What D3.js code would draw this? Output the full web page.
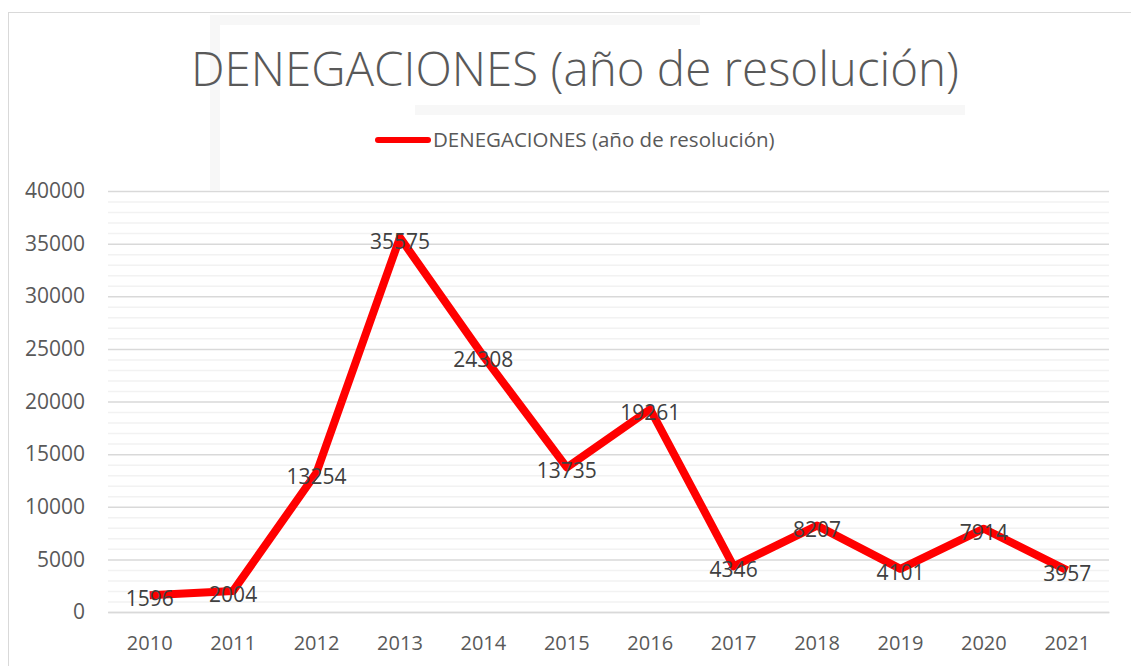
<!DOCTYPE html>
<meta charset="utf-8">
<script src="https://d3js.org/d3.v7.min.js"></script>
<style>
  body{margin:0;background:#fff;}
  text{font-family:"Open Sans",sans-serif;}
</style>
<div id="chart"></div>
<script>
    const years=["2010","2011","2012","2013","2014","2015","2016","2017","2018","2019","2020","2021"];
    const denegaciones=[1596,2004,13254,35575,24308,13735,19261,4346,8207,4101,7914,3957];
    const yTicks=[0,5000,10000,15000,20000,25000,30000,35000,40000];
    const titleText="DENEGACIONES (año de resolución)";

    const W=1131,H=666;
    const margin={top:191,bottom:54,left:108,right:22},
        width=W-margin.left-margin.right,
        height=H-margin.top-margin.bottom;

    const root=d3.select("#chart")
        .append("svg")
            .attr("width",W)
            .attr("height",H);

    // chart frame
    root.append("rect")
        .attr("x",8.5).attr("y",12.5)
        .attr("width",W+20).attr("height",H+20)
        .attr("fill","#fff")
        .attr("stroke","#d9d9d9");

    // faint watermark shapes
    const wm=root.append("g").attr("fill","none").attr("stroke","#f7f7f7").attr("stroke-width",10);
    wm.append("path").attr("d","M215,190 V20 H700");
    wm.append("path").attr("d","M415,110 H965");

    root.append("text")
        .attr("x",575).attr("y",86)
        .attr("text-anchor","middle")
        .attr("font-size",47.5)
        .attr("font-weight",300)
        .attr("fill","#595959")
        .text(titleText);

    // legend
    root.append("line")
        .attr("x1",378).attr("x2",428)
        .attr("y1",140).attr("y2",140)
        .attr("stroke","#ff0000")
        .attr("stroke-width",6)
        .attr("stroke-linecap","round");
    root.append("text")
        .attr("x",433).attr("y",147)
        .attr("font-size",20.5)
        .attr("fill","#595959")
        .text(titleText);

    const svg=root.append("g")
        .attr("transform",`translate(${margin.left},${margin.top})`);

    const x=d3.scaleBand()
        .domain(years)
        .range([0,width]);

    const y=d3.scaleLinear()
        .domain([0,40000])
        .range([height,0]);

    // minor gridlines
    svg.append("g")
        .selectAll("line")
        .data(d3.range(0,40001,1000).filter(v=>v%5000!==0))
        .join("line")
            .attr("x1",0).attr("x2",width)
            .attr("y1",d=>y(d)+0.5).attr("y2",d=>y(d)+0.5)
            .attr("stroke","#f2f2f2")
            .attr("stroke-width",1.5);

    // major gridlines
    svg.append("g")
        .call(d3.axisLeft(y).tickValues(yTicks).tickSize(-width).tickPadding(23).tickFormat(d3.format("d")))
        .call(g=>g.select(".domain").remove())
        .call(g=>g.selectAll(".tick line").attr("stroke","#d9d9d9").attr("stroke-width",1.5))
        .call(g=>g.selectAll(".tick text").attr("fill","#595959").attr("font-size",21).attr("font-family","Open Sans"));

    svg.append("g")
        .attr("transform",`translate(0,${height})`)
        .call(d3.axisBottom(x).tickSize(0).tickPadding(24))
        .call(g=>g.select(".domain").attr("stroke","#d9d9d9").attr("stroke-width",1.5))
        .call(g=>g.selectAll(".tick text").attr("fill","#595959").attr("font-size",20).attr("font-family","Open Sans"));

    const line=d3.line()
        .x((d,i)=>x(years[i])+x.bandwidth()/2)
        .y(d=>y(d));

    svg.append("path")
        .datum(denegaciones)
        .attr("fill","none")
        .attr("stroke","#ff0000")
        .attr("stroke-width",8)
        .attr("stroke-linejoin","round")
        .attr("d",line);

    svg.selectAll(".lbl")
        .data(denegaciones)
        .join("text")
            .attr("class","lbl")
            .attr("x",(d,i)=>x(years[i])+x.bandwidth()/2)
            .attr("y",d=>y(d)+11)
            .attr("text-anchor","middle")
            .attr("font-size",21)
            .attr("fill","#404040")
            .text(d=>d);
</script>
